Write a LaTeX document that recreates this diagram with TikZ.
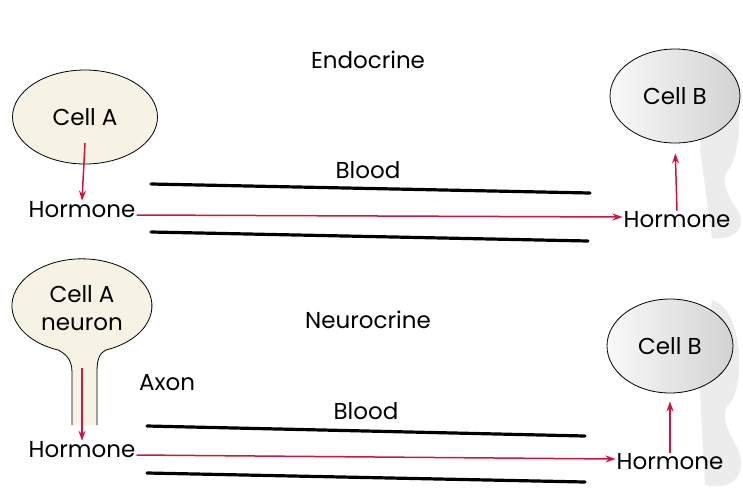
\documentclass[tikz,border=0pt]{standalone}
\usepackage{fontspec}
\setmainfont{Poppins}
\usetikzlibrary{arrows.meta,positioning,shapes.geometric}
\definecolor{hormred}{HTML}{D2143A}
\definecolor{cellfill}{HTML}{F6F3E4}

\begin{document}
\begin{tikzpicture}[x=1pt, y=-1pt,
  lbl/.style={font=\fontsize{23}{26}\selectfont, inner sep=1pt},
  cell/.style={draw, thick, ellipse, fill=cellfill, lbl},
  target/.style={cell, left color=gray!5, right color=gray!35},
  vessel/.style={line width=3.2pt, line cap=round},
  flow/.style={hormred, line width=1.5pt, -{Stealth[length=10pt, width=7pt]}}]
  \useasboundingbox[fill=white] (0,0) rectangle (743,499);

  % shadows behind cell B
  \fill[gray!15] (712,52) .. controls (745,60) and (745,150) .. (728,170)
    .. controls (718,185) and (732,200) .. (740,215)
    .. controls (745,232) and (730,240) .. (712,238) -- (700,150) -- cycle;
  \fill[gray!15] (712,300) .. controls (745,310) and (745,390) .. (728,405)
    .. controls (718,420) and (735,440) .. (740,455)
    .. controls (745,480) and (728,490) .. (705,485) -- (700,390) -- cycle;

  % endocrine
  \node[lbl] (endo) at (368,60) {Endocrine};
  \node[cell, minimum width=145pt, minimum height=94pt] (cellA) at (85,117) {Cell A};
  \node[lbl] (hormA) at (82,210) {Hormone};
  \node[target, minimum width=130pt, minimum height=94pt] (cellB) at (675,96) {Cell B};
  \node[lbl] (hormB) at (677,220) {Hormone};
  \node[lbl] (blood1) at (368,170) {Blood};

  \coordinate (v1a) at (151,184);
  \coordinate (v1b) at (590,193);
  \coordinate (v2a) at (151,232);
  \coordinate (v2b) at (588,241);
  \draw[vessel] (v1a) -- (v1b);
  \draw[vessel] (v2a) -- (v2b);

  \draw[flow] ([yshift=-26pt]cellA.center) -- (hormA.north);
  \draw[flow] ([yshift=-5pt]hormA.east) -- ([yshift=3pt]hormB.west);
  \draw[flow, shorten >=10pt] (hormB.north) -- (cellB.south);

  % neurocrine
  \node[lbl] (neuro) at (368,320) {Neurocrine};
  \filldraw[thick, fill=cellfill] (72,425) -- (72,372)
    .. controls (72,358) and (64,353) .. (58,350)
    arc[start angle=110, end angle=430, x radius=70, y radius=47]
    .. controls (100,353) and (97,358) .. (97,372) -- (97,425);
  \node[lbl, align=center] (cellAn) at (82,308) {Cell A\\[2pt]neuron};
  \node[lbl] (axon) at (167,383) {Axon};
  \node[lbl] (hormAn) at (82,450) {Hormone};
  \coordinate (axtop) at (82,368);
  \node[target, minimum width=126pt, minimum height=94pt] (cellBn) at (670,346) {Cell B};
  \node[lbl] (hormBn) at (670,462) {Hormone};
  \node[lbl] (blood2) at (366,411) {Blood};

  \coordinate (v3a) at (147,426);
  \coordinate (v3b) at (585,436);
  \coordinate (v4a) at (147,473);
  \coordinate (v4b) at (585,482);
  \draw[vessel] (v3a) -- (v3b);
  \draw[vessel] (v4a) -- (v4b);

  \draw[flow] (axtop) -- (hormAn.north);
  \draw[flow] ([yshift=-5pt]hormAn.east) -- ([yshift=3pt]hormBn.west);
  \draw[flow, shorten >=8pt] (hormBn.north) -- (cellBn.south);
\end{tikzpicture}
\end{document}
